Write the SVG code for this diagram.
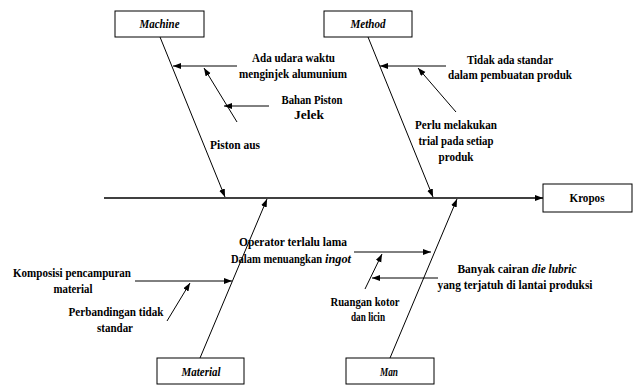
<svg xmlns="http://www.w3.org/2000/svg" width="635" height="385" viewBox="0 0 635 385">
<style>
.t{font-family:"Liberation Serif","Times New Roman","DejaVu Serif",serif;font-weight:700;font-size:12px;text-anchor:middle;fill:#000}
.s{text-anchor:start}
.i{font-style:italic}
.b{fill:#fff;stroke:#000;stroke-width:1}
.a{stroke:#000;stroke-width:1;fill:none;marker-end:url(#ah)}
</style>
<defs>
<marker id="ah" markerUnits="userSpaceOnUse" markerWidth="9" markerHeight="7" refX="8" refY="3" orient="auto">
<path d="M0,0 L8,3 L0,6 z" fill="#000"/>
</marker>
</defs>
<rect width="635" height="385" fill="#fff"/>
<g id="connectors">
<line class="a" x1="104" y1="198" x2="543" y2="198" style="stroke-width:1.3"/>
<line class="a" x1="160" y1="37" x2="225" y2="197"/>
<line class="a" x1="368" y1="37" x2="433" y2="197"/>
<line class="a" x1="200" y1="358" x2="267" y2="199"/>
<line class="a" x1="390" y1="358" x2="457" y2="199"/>
<line class="a" x1="237" y1="66" x2="173" y2="66"/>
<line class="a" x1="237" y1="122" x2="204" y2="68"/>
<line class="a" x1="269" y1="106" x2="224" y2="106"/>
<line class="a" x1="446" y1="66" x2="380" y2="66"/>
<line class="a" x1="456" y1="112" x2="418" y2="68"/>
<line class="a" x1="135" y1="281" x2="232" y2="281"/>
<line class="a" x1="167" y1="321" x2="190" y2="283"/>
<line class="a" x1="354" y1="252" x2="431" y2="252"/>
<line class="a" x1="365" y1="289" x2="382" y2="254"/>
<line class="a" x1="438" y1="278" x2="372" y2="278"/>
</g>
<g id="kropos">
<rect class="b" x="543" y="184" width="89" height="28"/>
<text class="t" x="587" y="202" textLength="35" lengthAdjust="spacingAndGlyphs">Kropos</text>
</g>
<g id="machine">
<rect class="b" x="115" y="11" width="89" height="26"/>
<text class="t i" x="159.5" y="27.5" textLength="40" lengthAdjust="spacingAndGlyphs">Machine</text>
</g>
<g id="method">
<rect class="b" x="324" y="11" width="88" height="26"/>
<text class="t i" x="368" y="27.5" textLength="35" lengthAdjust="spacingAndGlyphs">Method</text>
</g>
<g id="material">
<rect class="b" x="157" y="358" width="87" height="26"/>
<text class="t i" x="201" y="376" textLength="39" lengthAdjust="spacingAndGlyphs">Material</text>
</g>
<g id="man">
<rect class="b" x="346" y="358" width="88" height="26"/>
<text class="t i" x="389" y="376" textLength="18" lengthAdjust="spacingAndGlyphs">Man</text>
</g>
<g id="cause-udara">
<text class="t" x="293.5" y="62" textLength="83" lengthAdjust="spacingAndGlyphs">Ada udara waktu</text>
<text class="t" x="293" y="78" textLength="108" lengthAdjust="spacingAndGlyphs">menginjek alumunium</text>
</g>
<g id="cause-bahan">
<text class="t" x="312" y="104" textLength="61" lengthAdjust="spacingAndGlyphs">Bahan Piston</text>
<text class="t" x="309" y="119" textLength="30" lengthAdjust="spacingAndGlyphs">Jelek</text>
</g>
<g id="cause-piston">
<text class="t" x="235" y="149" textLength="50" lengthAdjust="spacingAndGlyphs">Piston aus</text>
</g>
<g id="cause-standar">
<text class="t" x="510" y="64" textLength="86" lengthAdjust="spacingAndGlyphs">Tidak ada standar</text>
<text class="t" x="510" y="79" textLength="124" lengthAdjust="spacingAndGlyphs">dalam pembuatan produk</text>
</g>
<g id="cause-trial">
<text class="t" x="456" y="129" textLength="82" lengthAdjust="spacingAndGlyphs">Perlu melakukan</text>
<text class="t" x="456" y="145" textLength="75" lengthAdjust="spacingAndGlyphs">trial pada setiap</text>
<text class="t" x="456" y="161" textLength="35" lengthAdjust="spacingAndGlyphs">produk</text>
</g>
<g id="cause-komposisi">
<text class="t" x="72" y="277" textLength="118" lengthAdjust="spacingAndGlyphs">Komposisi pencampuran</text>
<text class="t" x="73" y="293" textLength="39" lengthAdjust="spacingAndGlyphs">material</text>
</g>
<g id="cause-perbandingan">
<text class="t" x="116" y="316" textLength="95" lengthAdjust="spacingAndGlyphs">Perbandingan tidak</text>
<text class="t" x="115" y="332" textLength="36" lengthAdjust="spacingAndGlyphs">standar</text>
</g>
<g id="cause-operator">
<text class="t" x="293" y="246" textLength="108" lengthAdjust="spacingAndGlyphs">Operator terlalu lama</text>
<text class="t s" x="231" y="263"><tspan textLength="91" lengthAdjust="spacingAndGlyphs">Dalam menuangkan</tspan><tspan class="i" x="325" textLength="26" lengthAdjust="spacingAndGlyphs">ingot</tspan></text>
</g>
<g id="cause-ruangan">
<text class="t" x="365" y="306" textLength="69" lengthAdjust="spacingAndGlyphs">Ruangan kotor</text>
<text class="t" x="368" y="321" textLength="34" lengthAdjust="spacingAndGlyphs">dan licin</text>
</g>
<g id="cause-banyak">
<text class="t" x="517" y="273" textLength="119" lengthAdjust="spacingAndGlyphs">Banyak cairan  <tspan class="i">die lubric</tspan></text>
<text class="t" x="515" y="289" textLength="155" lengthAdjust="spacingAndGlyphs">yang terjatuh di lantai produksi</text>
</g>
</svg>
